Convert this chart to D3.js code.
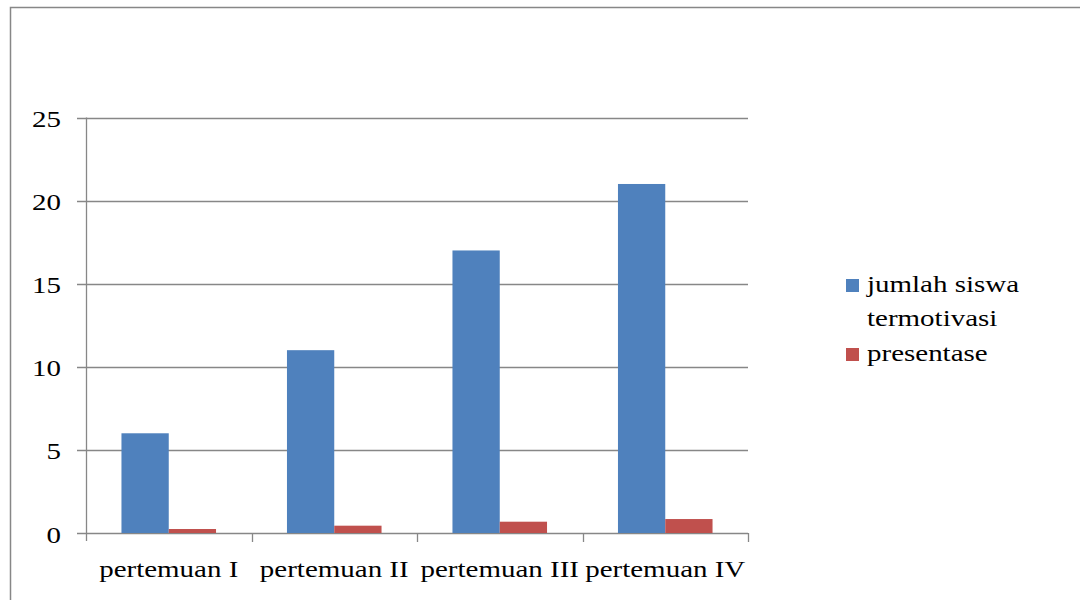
<!DOCTYPE html>
<html>
<head>
<meta charset="utf-8">
<script src="https://cdn.jsdelivr.net/npm/d3@7"></script>
<style>
  html, body { margin: 0; padding: 0; background: #fff; }
  svg { display: block; }
  text { font-family: "Liberation Serif", "Times New Roman", serif; fill: #000; }
</style>
</head>
<body>
<svg id="chart" width="1080" height="600"></svg>
<script>
// Chart data
const categories = ["pertemuan I", "pertemuan II", "pertemuan III", "pertemuan IV"];
const seriesNames = ["jumlah siswa termotivasi", "presentase"];
const jumlahSiswa = [6, 11, 17, 21];
const presentase = [0.24, 0.44, 0.68, 0.84];
const yTicks = [0, 5, 10, 15, 20, 25];
const legendLines = [["jumlah siswa", "termotivasi"], ["presentase"]];

const colors = ["#4F81BD", "#C0504D"];
const gridColor = "#878787";
const fontSize = 23;
const stretch = 1.26; // wide type face

const svg = d3.select("#chart");

// Outer frame
svg.append("rect")
  .attr("x", 10.5).attr("y", 7.5)
  .attr("width", 1100).attr("height", 620)
  .attr("fill", "none").attr("stroke", gridColor).attr("stroke-width", 1.5);

const plot = { left: 86, right: 748, top: 117.5, bottom: 533 };

const x0 = d3.scaleBand().domain(categories).range([plot.left, plot.right]).padding(0);
const x1 = d3.scaleBand().domain(seriesNames).range([0, x0.bandwidth()])
  .paddingInner(0).paddingOuter(0.75);
const y = d3.scaleLinear().domain([0, 25]).range([plot.bottom, plot.top]);

// Horizontal gridlines with ticks on the left
svg.append("g").selectAll("line").data(yTicks).join("line")
  .attr("x1", plot.left - 9).attr("x2", plot.right)
  .attr("y1", d => Math.round(y(d)) + 0.5).attr("y2", d => Math.round(y(d)) + 0.5)
  .attr("stroke", gridColor).attr("stroke-width", 1.3);

// Y axis line
svg.append("line")
  .attr("x1", plot.left + 0.5).attr("x2", plot.left + 0.5)
  .attr("y1", plot.top).attr("y2", plot.bottom + 8)
  .attr("stroke", gridColor).attr("stroke-width", 1.3);

// X axis category separators
svg.append("g").selectAll("line").data(categories).join("line")
  .attr("x1", d => Math.round(x0(d) + x0.bandwidth()) + 0.5)
  .attr("x2", d => Math.round(x0(d) + x0.bandwidth()) + 0.5)
  .attr("y1", plot.bottom).attr("y2", plot.bottom + 9)
  .attr("stroke", gridColor).attr("stroke-width", 1.3);

// Y tick labels
svg.append("g").selectAll("text").data(yTicks).join("text")
  .attr("transform", d => `translate(61,${y(d) + 9.5}) scale(${stretch},1)`)
  .attr("text-anchor", "end")
  .attr("font-size", fontSize)
  .text(d => d);

// Bars
const rows = categories.map((c, i) => ({ cat: c, values: [jumlahSiswa[i], presentase[i]] }));
const groups = svg.append("g").selectAll("g").data(rows).join("g")
  .attr("transform", d => `translate(${x0(d.cat)},0)`);
groups.selectAll("rect")
  .data(d => d.values.map((v, k) => ({ name: seriesNames[k], value: v, k })))
  .join("rect")
  .attr("x", d => x1(d.name))
  .attr("width", x1.bandwidth())
  .attr("y", d => y(d.value))
  .attr("height", d => y(0) - y(d.value))
  .attr("fill", d => colors[d.k]);

// Category labels
svg.append("g").selectAll("text").data(categories).join("text")
  .attr("transform", d => `translate(${x0(d) + x0.bandwidth() / 2},577) scale(${stretch},1)`)
  .attr("text-anchor", "middle")
  .attr("font-size", fontSize)
  .text(d => d);

// Legend
const legendY = [279, 348];
const legend = svg.append("g").selectAll("g").data(seriesNames).join("g");
legend.append("rect")
  .attr("x", 846).attr("y", (d, i) => legendY[i])
  .attr("width", 13).attr("height", 13)
  .attr("fill", (d, i) => colors[i]);
legend.each(function (d, i) {
  d3.select(this).selectAll("text").data(legendLines[i]).join("text")
    .attr("transform", (t, j) => `translate(867,${legendY[i] + 13 + j * 34}) scale(${stretch},1)`)
    .attr("font-size", fontSize)
    .text(t => t);
});
</script>
</body>
</html>
